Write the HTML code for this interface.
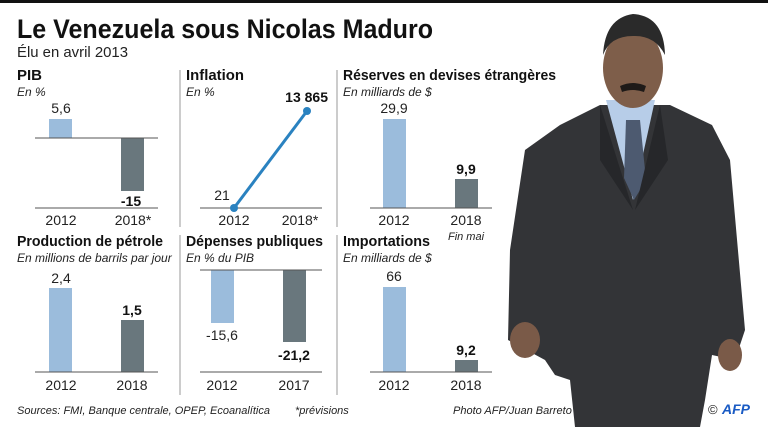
<!DOCTYPE html>
<html><head><meta charset="utf-8"><style>
body{margin:0;background:#fff}
svg{display:block;font-family:"Liberation Sans",sans-serif}
.t{font-weight:bold;font-size:15px;fill:#111}
.s{font-style:italic;font-size:12px;fill:#222}
.v{font-size:14px;fill:#222;text-anchor:middle}
.b{font-size:14px;font-weight:bold;fill:#111;text-anchor:middle}
.k{font-size:14px;fill:#222;text-anchor:middle}
.f{font-style:italic;font-size:11px;fill:#222}
</style></head><body>
<svg width="768" height="427" viewBox="0 0 768 427">
<rect x="0" y="0" width="768" height="3" fill="#111"/>
<text x="17" y="38" font-size="27" font-weight="bold" fill="#111" textLength="416" lengthAdjust="spacingAndGlyphs">Le Venezuela sous Nicolas Maduro</text>
<text x="17" y="57" font-size="15" fill="#222" textLength="111" lengthAdjust="spacingAndGlyphs">Élu en avril 2013</text>
<g stroke="#bbb" stroke-width="1.5"><line x1="180" y1="70" x2="180" y2="227"/><line x1="337" y1="70" x2="337" y2="227"/><line x1="180" y1="235" x2="180" y2="395"/><line x1="337" y1="235" x2="337" y2="395"/></g>
<!-- PIB -->
<text x="17" y="80" class="t">PIB</text><text x="17" y="96" class="s">En %</text>
<rect x="49" y="119" width="23" height="19" fill="#9bbcdc"/>
<rect x="121" y="138" width="23" height="53" fill="#69777d"/>
<g stroke="#555"><line x1="35" y1="138" x2="158" y2="138"/><line x1="35" y1="208" x2="158" y2="208"/></g>
<text x="61" y="113" class="v">5,6</text><text x="131" y="206" class="b">-15</text>
<text x="61" y="225" class="k">2012</text><text x="133" y="225" class="k">2018*</text>
<!-- Inflation -->
<text x="186" y="80" class="t" textLength="58" lengthAdjust="spacingAndGlyphs">Inflation</text><text x="186" y="96" class="s">En %</text>
<line x1="200" y1="208" x2="322" y2="208" stroke="#555"/>
<line x1="234" y1="208" x2="307" y2="111" stroke="#2a82c0" stroke-width="3"/>
<circle cx="234" cy="208" r="4" fill="#2a82c0"/><circle cx="307" cy="111" r="4" fill="#2a82c0"/>
<text x="222" y="200" class="v">21</text><text x="328" y="102" class="b" style="text-anchor:end">13 865</text>
<text x="234" y="225" class="k">2012</text><text x="300" y="225" class="k">2018*</text>
<!-- Reserves -->
<text x="343" y="80" class="t" textLength="213" lengthAdjust="spacingAndGlyphs">Réserves en devises étrangères</text><text x="343" y="96" class="s">En milliards de $</text>
<rect x="383" y="119" width="23" height="89" fill="#9bbcdc"/>
<rect x="455" y="179" width="23" height="29" fill="#69777d"/>
<line x1="370" y1="208" x2="492" y2="208" stroke="#555"/>
<text x="394" y="113" class="v">29,9</text><text x="466" y="174" class="b">9,9</text>
<text x="394" y="225" class="k">2012</text><text x="466" y="225" class="k">2018</text>
<text x="466" y="240" class="s" style="text-anchor:middle;font-size:11px">Fin mai</text>
<!-- Production -->
<text x="17" y="246" class="t" textLength="146" lengthAdjust="spacingAndGlyphs">Production de pétrole</text><text x="17" y="262" class="s">En millions de barrils par jour</text>
<rect x="49" y="288" width="23" height="84" fill="#9bbcdc"/>
<rect x="121" y="320" width="23" height="52" fill="#69777d"/>
<line x1="35" y1="372" x2="158" y2="372" stroke="#555"/>
<text x="61" y="283" class="v">2,4</text><text x="132" y="315" class="b">1,5</text>
<text x="61" y="390" class="k">2012</text><text x="132" y="390" class="k">2018</text>
<!-- Depenses -->
<text x="186" y="246" class="t" textLength="137" lengthAdjust="spacingAndGlyphs">Dépenses publiques</text><text x="186" y="262" class="s">En % du PIB</text>
<rect x="211" y="270" width="23" height="53" fill="#9bbcdc"/>
<rect x="283" y="270" width="23" height="72" fill="#69777d"/>
<g stroke="#555"><line x1="200" y1="270" x2="322" y2="270"/><line x1="200" y1="372" x2="322" y2="372"/></g>
<text x="222" y="340" class="v">-15,6</text><text x="294" y="360" class="b">-21,2</text>
<text x="222" y="390" class="k">2012</text><text x="294" y="390" class="k">2017</text>
<!-- Importations -->
<text x="343" y="246" class="t" textLength="87" lengthAdjust="spacingAndGlyphs">Importations</text><text x="343" y="262" class="s">En milliards de $</text>
<rect x="383" y="287" width="23" height="85" fill="#9bbcdc"/>
<rect x="455" y="360" width="23" height="12" fill="#69777d"/>
<line x1="370" y1="372" x2="492" y2="372" stroke="#555"/>
<text x="394" y="281" class="v">66</text><text x="466" y="355" class="b">9,2</text>
<text x="394" y="390" class="k">2012</text><text x="466" y="390" class="k">2018</text>
<!-- Photo approximation -->
<path d="M560 125 L600 105 L670 105 L712 125 L730 160 L745 330 L735 360 L712 355 L705 400 L700 427 L575 427 L570 380 L555 375 L545 360 L508 340 L510 250 L525 150 Z" fill="#333437"/>
<path d="M606 100 L633 200 L655 100 Z" fill="#b7cde8"/>
<path d="M626 120 L640 120 L646 180 L634 200 L624 178 Z" fill="#4d5a70"/>
<path d="M600 105 L633 210 L600 160 Z" fill="#26272a"/>
<path d="M660 105 L635 210 L668 160 Z" fill="#26272a"/>
<ellipse cx="633" cy="68" rx="30" ry="40" fill="#7e5e4a"/>
<path d="M603 55 Q605 18 633 14 Q664 16 665 55 Q655 35 633 36 Q610 36 603 55 Z" fill="#2a2a2a"/>
<path d="M620 86 Q633 80 646 86 L644 92 Q633 88 622 92 Z" fill="#1e1a18"/>
<ellipse cx="525" cy="340" rx="15" ry="18" fill="#7a5a48"/>
<ellipse cx="730" cy="355" rx="12" ry="16" fill="#7a5a48"/>
<!-- footer -->
<text x="17" y="414" class="f">Sources: FMI, Banque centrale, OPEP, Ecoanalítica</text>
<text x="295" y="414" class="f">*prévisions</text>
<text x="453" y="414" class="f">Photo AFP/Juan Barreto</text>
<text x="708" y="414" font-size="13" fill="#222">©</text>
<text x="722" y="414" font-size="14" font-weight="bold" font-style="italic" fill="#1a5bc4">AFP</text>
</svg>
</body></html>
